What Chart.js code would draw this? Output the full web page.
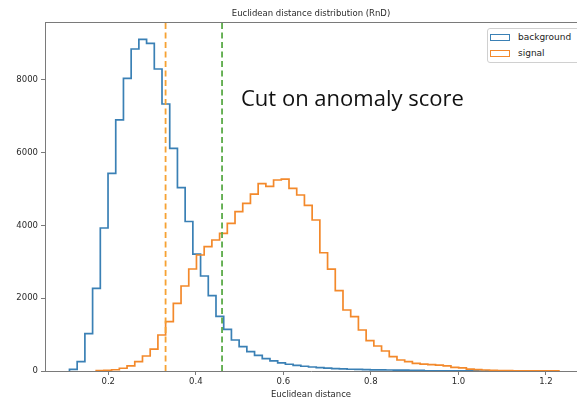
<!DOCTYPE html>
<html>
<head>
<meta charset="utf-8">
<script src="https://cdn.jsdelivr.net/npm/chart.js@4.4.1/dist/chart.umd.min.js"></script>
<style>
  html, body { margin: 0; padding: 0; background: #fff; }
  #wrap { position: relative; width: 577px; height: 400px; overflow: hidden; }
  #note { position: absolute; left: 241px; top: 86px; font: 22px/22px 'Open Sans', sans-serif; color: #111; white-space: nowrap; }
  #legend { position: absolute; left: 487px; top: 28px; width: 96px; height: 33px; border: 1px solid #d0d0d0; border-radius: 3px; background: #fff; font: 9px 'DejaVu Sans', sans-serif; color: #222; }
  #legend .row { position: absolute; left: 2px; height: 12px; display: flex; align-items: center; white-space: nowrap; }
  #legend .patch { width: 18px; height: 5px; margin-right: 8px; border: 1.5px solid; }
</style>
</head>
<body>
<div id="wrap">
  <canvas id="chart" width="577" height="400"></canvas>
  <div id="note">Cut on anomaly score</div>
  <div id="legend"></div>
</div>
<script>
// ── data ─────────────────────────────────────────────────────────────────────
const seriesNames = ["background", "signal"];

// 60-bin histograms, counts per bin
const bgRange  = [0.1114, 1.1686];
const bgCounts = [
    45, 256, 1030, 2273, 3930, 5434, 6900, 8045, 8851, 9118,
    9007, 8301, 7339, 6121, 5040, 4110, 3210, 2611, 2070, 1500,
    1146, 852, 668, 531, 430, 340, 280, 225, 185, 152,
    130, 110, 92, 78, 66, 56, 48, 42, 37, 33,
    30, 27, 25, 22, 20, 18, 4, 3, 2, 2,
    1, 1, 1, 0, 1, 0, 0, 0, 0, 1,
];

const sigRange  = [0.1725, 1.2297];
const sigCounts = [
    10, 20, 35, 75, 140, 256, 412, 600, 990, 1355,
    1860, 2336, 2804, 3189, 3417, 3601, 3785, 4060, 4379, 4610,
    4860, 5150, 5075, 5250, 5275, 5022, 4838, 4550, 4150, 3250,
    2800, 2207, 1677, 1493, 1127, 833, 687, 550, 393, 302,
    256, 210, 190, 175, 160, 140, 100, 85, 50, 40,
    28, 20, 10, 8, 6, 5, 4, 3, 2, 2,
];

// vertical cut lines
const cutSignal = 0.331;
const cutRnd    = 0.46;

// axes
const xLimits = [0.0555, 1.271];
const yLimits = [0, 9593];
const xTicks  = [0.2, 0.4, 0.6, 0.8, 1.0, 1.2];
const yTicks  = [0, 2000, 4000, 6000, 8000];

// ── styling ─────────────────────────────────────────────────────────────────
const C = {
    blue:   "#3a80b5",
    orange: "#f3892b",
    cutO:   "#f6a233",
    cutG:   "#5bab48",
    spine:  "#7a7a7a",
    text:   "#2a2a2a",
};
const FONT = "'DejaVu Sans', sans-serif";

// step outline like matplotlib histtype="step"
function stepOutline(range, counts) {
    const n = counts.length;
    const w = (range[1] - range[0]) / n;
    const pts = [{ x: range[0], y: 0 }];
    counts.forEach((c, i) => pts.push({ x: range[0] + i * w, y: c }));
    pts.push({ x: range[1], y: 0 });
    return pts;
}

function vline(x) {
    return [{ x, y: yLimits[0] }, { x, y: yLimits[1] }];
}

// top spine
const framePlugin = {
    id: "frame",
    afterDraw(chart) {
        const { ctx, chartArea: a } = chart;
        ctx.save();
        ctx.strokeStyle = C.spine;
        ctx.lineWidth = 1;
        ctx.beginPath();
        ctx.moveTo(a.left, a.top + 0.5);
        ctx.lineTo(a.right, a.top + 0.5);
        ctx.stroke();
        ctx.restore();
    },
};

const axisCommon = {
    grid:   { drawOnChartArea: false, drawTicks: true, tickLength: 4, tickColor: C.spine },
    border: { display: true, color: C.spine, width: 1 },
};

new Chart(document.getElementById("chart").getContext("2d"), {
    type: "line",
    data: {
        datasets: [
            { label: "cutRnd",    data: vline(cutRnd),    borderColor: C.cutG, borderWidth: 1.8, borderDash: [6, 3.5] },
            { label: "cutSignal", data: vline(cutSignal), borderColor: C.cutO, borderWidth: 1.8, borderDash: [6, 3.5] },
            { label: seriesNames[1], data: stepOutline(sigRange, sigCounts), borderColor: C.orange, borderWidth: 1.7, stepped: "before" },
            { label: seriesNames[0], data: stepOutline(bgRange, bgCounts),   borderColor: C.blue,   borderWidth: 1.7, stepped: "before" },
        ],
    },
    options: {
        responsive: false,
        animation: false,
        events: [],
        elements: { point: { radius: 0 }, line: { fill: false, tension: 0 } },
        layout: { padding: 0 },
        scales: {
            x: {
                type: "linear",
                min: xLimits[0],
                max: xLimits[1],
                ...axisCommon,
                afterBuildTicks: (s) => { s.ticks = xTicks.map((v) => ({ value: v })); },
                afterFit: (s) => { s.height = 29; },
                ticks: { color: C.text, font: { family: FONT, size: 8.5 }, padding: 2, maxRotation: 0, callback: (v) => v.toFixed(1) },
                title: { display: true, text: "Euclidean distance", color: C.text, font: { family: FONT, size: 8.5 }, padding: { top: 0, bottom: 0.5 } },
            },
            y: {
                min: yLimits[0],
                max: yLimits[1],
                ...axisCommon,
                afterBuildTicks: (s) => { s.ticks = yTicks.map((v) => ({ value: v })); },
                afterFit: (s) => { s.width = 45; },
                ticks: { color: C.text, font: { family: FONT, size: 8.5 }, padding: 3, callback: (v) => String(v) },
            },
        },
        plugins: {
            legend:  { display: false },
            tooltip: { enabled: false },
            title: {
                display: true,
                text: "Euclidean distance distribution (RnD)",
                color: C.text,
                fullSize: false,
                font: { family: FONT, size: 8.5, weight: "normal", lineHeight: 1.2 },
                padding: { top: 9, bottom: 2.8 },
            },
        },
    },
    plugins: [framePlugin],
});

// legend box in upper right (html)
const legendColors = [C.blue, C.orange];
document.getElementById("legend").innerHTML = seriesNames
    .map((name, i) =>
        `<div class="row" style="top:${2 + i * 16}px"><span class="patch" style="border-color:${legendColors[i]}"></span>${name}</div>`)
    .join("");
</script>
</body>
</html>
